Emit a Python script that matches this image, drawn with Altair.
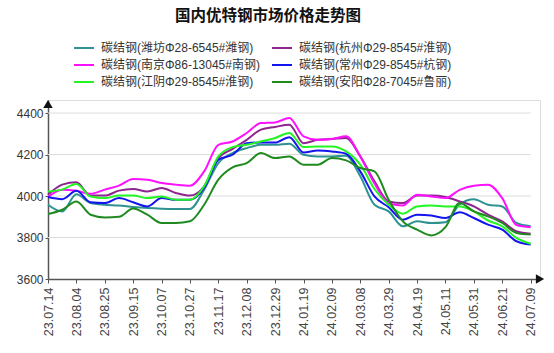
import altair as alt
import pandas as pd

TITLE = "国内优特钢市场价格走势图"

DATE_LABELS = ["23.07.14", "23.08.04", "23.08.25", "23.09.15", "23.10.07", "23.10.27",
               "23.11.17", "23.12.08", "23.12.29", "24.01.19", "24.02.09", "24.03.08",
               "24.03.29", "24.04.19", "24.05.11", "24.05.31", "24.06.21", "24.07.09"]
TICK_POS = [0, 1, 2, 3, 4, 5, 6, 7, 8, 9, 10, 11, 12, 13, 14, 15, 16, 17]

# sample positions (in label-interval units)
T = [0, 0.5, 1, 1.5, 2, 2.5, 3, 3.5, 4, 4.5, 5, 5.5, 6, 6.5, 7, 7.5, 8, 8.5, 9, 9.5,
     10, 10.5, 11, 11.5, 12, 12.5, 13, 13.5, 14, 14.5, 15, 15.5, 16, 16.5, 17]

SERIES = ["碳结钢(潍坊Φ28-6545#潍钢)", "碳结钢(杭州Φ29-8545#淮钢)",
          "碳结钢(南京Φ86-13045#南钢)", "碳结钢(常州Φ29-8545#杭钢)",
          "碳结钢(江阴Φ29-8545#淮钢)", "碳结钢(安阳Φ28-7045#鲁丽)"]
COLORS = ["#2E9292", "#8E258E", "#FF10FF", "#1414F0", "#22F522", "#1F8A1F"]
# legend fills column by column: left column first, then right column
LEGEND_ORDER = [0, 2, 4, 1, 3, 5]

WEIFANG = [3958, 3925, 4008, 3966, 3958, 3954, 3947, 3942, 3939, 3938, 3938, 4031, 4159, 4207,
           4231, 4247, 4247, 4252, 4199, 4191, 4191, 4194, 4095, 3958, 3926, 3854, 3878, 3870,
           3874, 3960, 3985, 3958, 3950, 3870, 3854]
HANGZHOU = [4006, 4055, 4066, 4002, 4002, 4026, 4034, 4022, 4039, 4015, 4002, 4047, 4183, 4227,
            4271, 4320, 4333, 4344, 4255, 4271, 4275, 4280, 4191, 4071, 3974, 3966, 4002, 4002,
            3995, 3974, 3950, 3910, 3878, 3830, 3818]
NANJING = [3995, 4030, 4025, 4011, 4031, 4050, 4082, 4079, 4063, 4055, 4050, 4119, 4247, 4263,
           4304, 4352, 4355, 4376, 4288, 4271, 4275, 4288, 4191, 4060, 3966, 3954, 4006, 3998,
           3990, 4030, 4050, 4055, 3990, 3860, 3850]
CHANGZHOU = [3995, 3985, 4025, 3970, 3966, 3990, 3970, 3950, 3990, 3982, 3982, 4039, 4175, 4199,
             4255, 4258, 4258, 4284, 4210, 4220, 4215, 4204, 4119, 3998, 3946, 3886, 3910, 3906,
             3894, 3922, 3894, 3862, 3838, 3782, 3766]
JIANGYIN = [4022, 4031, 4058, 3998, 3990, 4002, 4002, 3990, 3998, 3982, 3982, 4047, 4191, 4236,
            4247, 4263, 4280, 4304, 4236, 4239, 4239, 4215, 4151, 4034, 3958, 3915, 3950, 3954,
            3950, 3950, 3926, 3882, 3854, 3798, 3770]
ANYANG = [3913, 3934, 3974, 3910, 3897, 3900, 3940, 3910, 3870, 3870, 3878, 3958, 4079, 4138,
          4159, 4207, 4183, 4191, 4151, 4151, 4183, 4172, 4135, 4119, 3982, 3878, 3838, 3810,
          3850, 3966, 3926, 3902, 3870, 3822, 3814]

Y_TICKS = [3600, 3800, 4000, 4200, 4400]
GRID_VALUES = [3800, 4000, 4200, 4400]

LATIN_CJK = "Liberation Sans, Noto Sans CJK SC"

rows = []
for name, vals in zip(SERIES, [WEIFANG, HANGZHOU, NANJING, CHANGZHOU, JIANGYIN, ANYANG]):
    for t, v in zip(T, vals):
        rows.append({"t": t, "price": v, "series": name})
df = pd.DataFrame(rows)

legend_domain = [SERIES[i] for i in LEGEND_ORDER]
legend_range = [COLORS[i] for i in LEGEND_ORDER]

W, H = 492, 179
X_MAX = 17.33
x_scale = alt.Scale(domain=[0, X_MAX], nice=False, zero=False)
y_scale = alt.Scale(domain=[3600, 4463], nice=False, zero=False)

label_expr = "[" + ",".join("'%s'" % s for s in DATE_LABELS) + "][round(datum.value)]"

AX_X = alt.Axis(values=TICK_POS, labelExpr=label_expr, grid=False,
                labelAngle=270, labelAlign="right", labelBaseline="middle",
                labelFont="Liberation Sans", labelFontSize=12.5, labelColor="#444",
                labelPadding=4, tickSize=4, tickColor="#555", domainColor="#555",
                domainWidth=1.5, labelOverlap=False, labelFlush=False)
AX_Y = alt.Axis(values=Y_TICKS, format="d", grid=False, labelFont="Liberation Sans",
                labelFontSize=12, labelColor="#333", tickSize=3, tickColor="#555",
                domainColor="#555", domainWidth=1.5, labelPadding=2, labelOverlap=False)

grid = alt.Chart(pd.DataFrame({"g": GRID_VALUES})).mark_rule(
    color="#dcdcdc", strokeWidth=1
).encode(
    y=alt.Y("g:Q", scale=y_scale, axis=AX_Y, title=None),
    x=alt.value(0),
    x2=alt.value(W * 17 / X_MAX),
)

lines = alt.Chart(df).mark_line(strokeWidth=2, interpolate="monotone").encode(
    x=alt.X("t:Q", scale=x_scale, axis=AX_X, title=None),
    y=alt.Y("price:Q", scale=y_scale, axis=AX_Y, title=None),
    color=alt.Color("series:N", scale=alt.Scale(domain=legend_domain, range=legend_range),
                    legend=alt.Legend(title=None, orient="none", legendX=25, legendY=-63,
                                      columns=2, symbolType="stroke", symbolSize=400,
                                      symbolStrokeWidth=2, labelFont=LATIN_CJK,
                                      labelFontSize=12, labelColor="#333", labelOffset=6,
                                      columnPadding=8, rowPadding=-2, padding=0,
                                      labelLimit=400)),
)

one = pd.DataFrame({"k": [TITLE]})
title = alt.Chart(one).mark_text(
    font="Noto Sans CJK SC", fontSize=15.5, fontWeight="bold", color="#111",
    align="center", baseline="middle"
).encode(x=alt.value(268 - 48), y=alt.value(15.5 - 100), text="k:N")

arrow_up = alt.Chart(one).mark_point(shape="triangle-up", filled=True, color="#111",
                                     size=90, opacity=1).encode(
    x=alt.value(0), y=alt.value(4))
arrow_right = alt.Chart(one).mark_point(shape="triangle-right", filled=True, color="#111",
                                        size=90, opacity=1).encode(
    x=alt.value(W), y=alt.value(H))

chart = alt.layer(grid, lines, title, arrow_up, arrow_right).properties(
    width=W, height=H,
    autosize=alt.AutoSizeParams(type="none"),
    padding={"left": 48, "top": 100, "right": 14, "bottom": 74},
).configure_view(stroke=None).configure(background="white")

chart.save("out.html", embed_options={"renderer": "svg", "actions": False})
